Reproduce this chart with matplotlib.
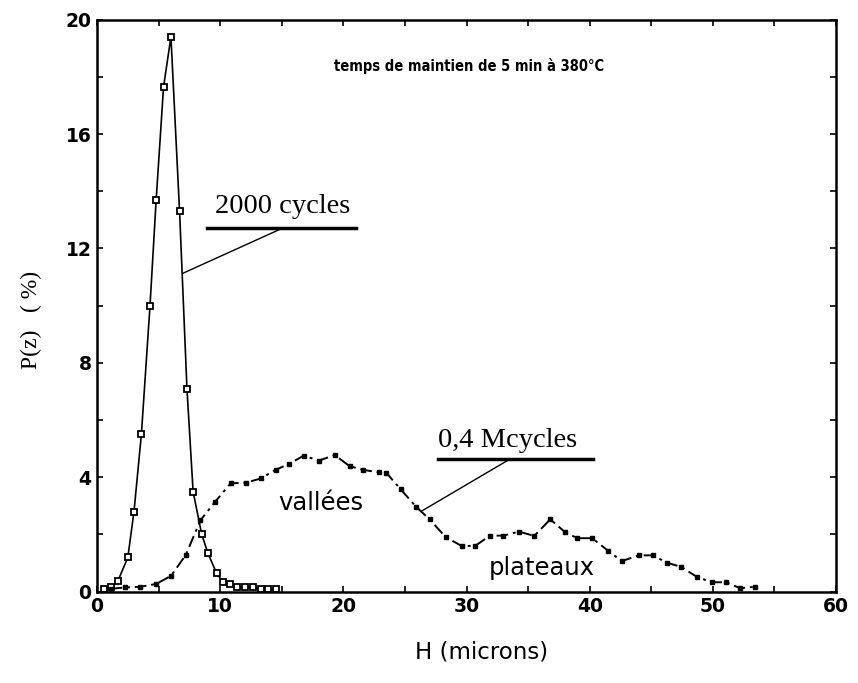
import matplotlib.pyplot as plt

# 2000 cycles (open squares, solid line)
h_2000 = [0.6, 1.1, 1.7, 2.5, 3.0, 3.6, 4.3, 4.8, 5.4, 6.0, 6.7, 7.3, 7.8, 8.5,
          9.0, 9.7, 10.2, 10.8, 11.4, 12.0, 12.7, 13.3, 13.9, 14.5]
p_2000 = [0.1, 0.15, 0.38, 1.2, 2.8, 5.5, 10.0, 13.7, 17.65, 19.4, 13.3, 7.1, 3.5, 2.0,
          1.35, 0.65, 0.35, 0.27, 0.15, 0.15, 0.17, 0.08, 0.08, 0.08]

# 0,4 Mcycles (small filled squares, dash-dot line)
h_04 = [1.1, 2.3, 3.5, 4.8, 6.0, 7.2, 8.4, 9.6, 10.85, 12.1, 13.3, 14.5, 15.6, 16.8,
        18.0, 19.3, 20.5, 21.6, 22.9, 23.5, 24.65, 25.9, 27.0, 28.3, 29.6, 30.7, 31.9,
        33.0, 34.25, 35.5, 36.8, 38.0, 39.0, 40.2, 41.5, 42.6, 44.0, 45.1, 46.3, 47.4,
        48.7, 49.9, 51.1, 52.2, 53.4]
p_04 = [0.1, 0.15, 0.17, 0.27, 0.55, 1.28, 2.5, 3.15, 3.79, 3.81, 3.96, 4.26, 4.47, 4.76,
        4.58, 4.78, 4.39, 4.26, 4.17, 4.15, 3.58, 2.97, 2.53, 1.91, 1.60, 1.60, 1.96,
        1.96, 2.10, 1.95, 2.53, 2.08, 1.87, 1.87, 1.43, 1.07, 1.27, 1.27, 1.01, 0.87,
        0.52, 0.33, 0.33, 0.12, 0.17]

x_ticks = [0, 10, 20, 30, 40, 50, 60]
y_ticks = [0, 4, 8, 12, 16, 20]


def main():
    fig = plt.figure(figsize=(8.58, 6.83), dpi=100)
    ax = fig.add_axes([0.1131, 0.1337, 0.8613, 0.8375])

    ax.plot(h_2000, p_2000, color="black", lw=1.2, marker="s", ms=4.2,
            mfc="white", mec="black", mew=1.3)
    ax.plot(h_04, p_04, color="black", lw=1.4, dashes=(6, 2.5, 1.5, 2.5),
            marker="s", ms=3, mfc="black", mec="black")

    ax.set_xlim(0, 60)
    ax.set_ylim(0, 20)
    ax.set_xticks(x_ticks)
    ax.set_yticks(y_ticks)
    ax.set_xticks(range(0, 61, 5), minor=True)
    ax.set_yticks(range(0, 21, 2), minor=True)
    ax.tick_params(which="both", direction="in", top=True, right=True,
                   length=4, width=1.2)
    ax.tick_params(which="major", labelsize=13.5, pad=4)
    for lab in ax.get_xticklabels() + ax.get_yticklabels():
        lab.set_fontweight("bold")
    for sp in ax.spines.values():
        sp.set_linewidth(1.8)

    # annotations
    ax.text(9.6, 13.25, "2000 cycles", family="Liberation Serif", fontsize=20.5)
    ax.plot([8.95, 21.0], [12.73, 12.73], color="black", lw=2.5)
    ax.plot([14.85, 6.96], [12.67, 11.13], color="black", lw=1)

    ax.text(27.7, 5.07, "0,4 Mcycles", family="Liberation Serif", fontsize=20.5)
    ax.plot([27.7, 40.3], [4.63, 4.63], color="black", lw=2.5)
    ax.plot([33.5, 26.4], [4.63, 2.83], color="black", lw=1)

    ax.text(14.7, 2.86, "vallées", fontsize=17.5)
    ax.text(31.8, 0.58, "plateaux", fontsize=17.5)

    ax.text(19.2, 18.2, "temps de maintien de 5 min à 380°C", fontsize=10.5,
            fontweight="bold", fontstretch="condensed")

    ax.set_xlabel("H (microns)", fontsize=16.5)
    ax.xaxis.set_label_coords(0.52, -0.085)
    ax.set_ylabel("P(z)   ( %)", family="Liberation Serif", fontsize=17)
    ax.yaxis.set_label_coords(-0.074, 0.475)

    fig.savefig("out.png", dpi=100)


if __name__ == "__main__":
    main()
